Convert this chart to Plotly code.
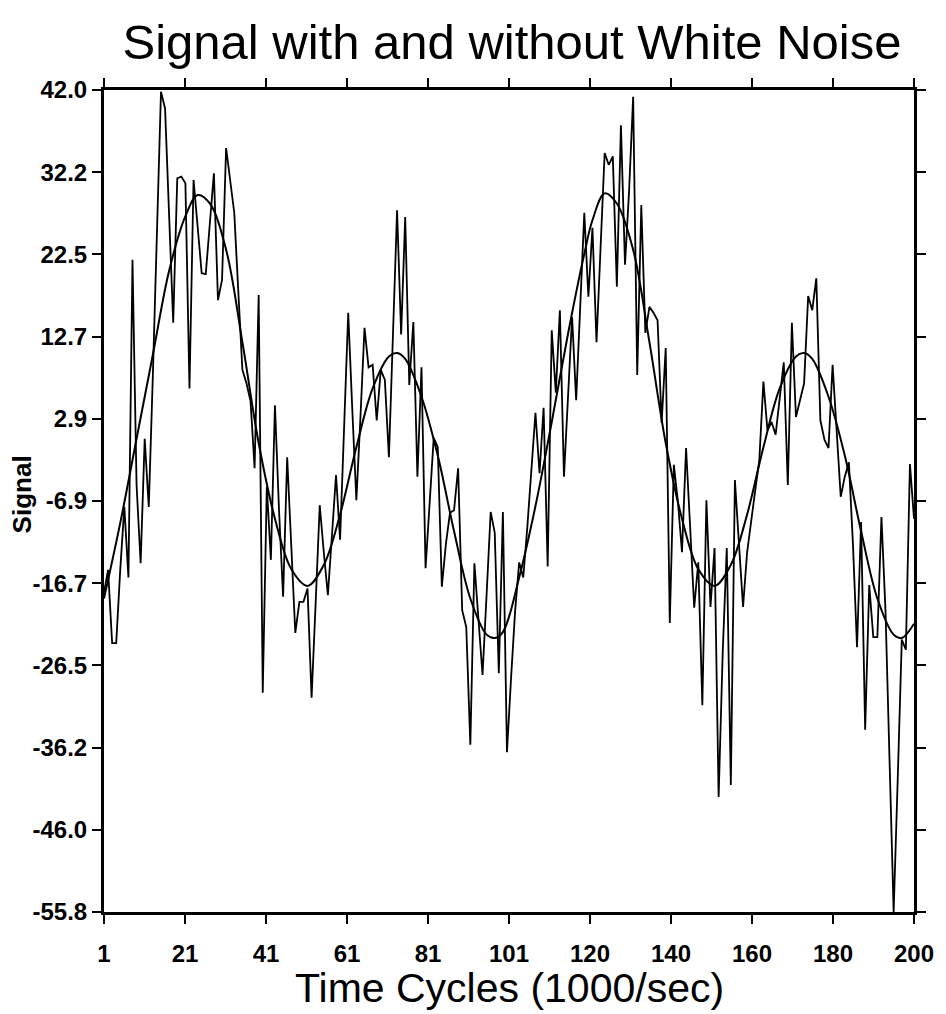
import plotly.graph_objects as go

# ---- data ----
time_idx = list(range(1, 201))

noisy_signal = [
    -17.8, -15.1, -23.8, -23.8, -15.0, -7.6, -16.0, 21.8, -5.0, -14.3,
    0.5, -7.6, 8.0, 25.0, 41.8, 39.8, 27.0, 14.3, 31.5, 31.7,
    30.9, 6.5, 31.3, 25.5, 20.2, 20.1, 26.0, 32.1, 17.0, 19.4,
    35.1, 31.0, 27.4, 18.0, 8.7, 7.1, 5.0, -3.0, 17.6, -29.7,
    -5.2, -13.9, 4.5, -8.0, -18.3, -1.7, -12.0, -22.6, -18.9, -18.9,
    -17.3, -30.3, -19.0, -7.4, -13.0, -18.1, -11.0, -3.8, -11.5, 2.0,
    15.5, 4.0, -6.8, 3.0, 13.7, 9.0, 9.3, 2.7, 8.7, 7.5,
    -1.7, 13.0, 27.7, 12.9, 26.9, 6.9, 14.4, -4.0, 9.0, -14.9,
    -7.0, 0.6, -0.5, -17.1, -12.0, -8.3, -8.0, -3.0, -19.9, -21.9,
    -35.9, -14.3, -21.0, -27.6, -18.0, -8.2, -10.7, -27.4, -8.2, -36.8,
    -28.0, -20.0, -14.2, -16.0, -10.0, -3.0, 3.6, -3.6, 4.2, -14.7,
    13.4, 6.0, 15.8, -4.0, 5.0, 15.0, 5.1, 16.0, 27.4, 17.4,
    25.6, 12.0, 24.0, 34.5, 33.1, 34.1, 18.6, 37.8, 21.2, 30.0,
    41.2, 8.1, 28.3, 13.1, 16.2, 15.5, 14.6, 2.4, 11.3, -21.4,
    -2.6, -7.0, -13.0, -0.6, -10.0, -19.6, -14.2, -31.2, -6.8, -19.5,
    -12.5, -42.1, -25.0, -12.5, -40.7, -4.4, -12.0, -19.5, -13.0, -9.0,
    -5.6, -2.0, 7.3, 1.5, 2.5, 1.0, 5.0, 9.6, -5.0, 14.3,
    3.1, 5.0, 7.1, 17.5, 15.8, 19.6, 2.7, 0.4, -0.6, 9.3,
    1.0, -6.4, -4.0, -2.3, -12.0, -24.3, -9.4, -34.1, -16.9, -23.1,
    -23.1, -8.8, -20.0, -38.0, -55.8, -40.0, -23.4, -24.6, -2.5, -9.0,
]

smooth_x = [1, 5, 9, 13, 17, 21, 24, 27, 31, 35, 39, 43, 47, 51, 55, 59, 63, 67,
            71, 73, 75, 79, 83, 87, 91, 95, 97, 99, 103, 107, 111, 115, 119, 121,
            124, 127, 131, 135, 139, 143, 147, 151, 155, 159, 163, 167, 171, 173,
            175, 179, 183, 187, 191, 195, 197, 200]
smooth_signal = [-18.5, -9.5, 0.5, 10.5, 20.5, 27.0, 29.5, 28.5, 23.0, 12.0, 0.0,
                 -9.0, -15.0, -17.0, -14.5, -8.5, -0.5, 6.5, 10.3, 10.7, 10.0, 5.5,
                 -1.5, -10.5, -18.5, -22.8, -23.2, -22.5, -16.0, -7.5, 2.5, 13.0,
                 22.5, 26.5, 29.7, 28.5, 23.0, 12.0, 0.0, -9.0, -15.0, -17.0,
                 -14.5, -8.5, -0.5, 6.5, 10.3, 10.7, 10.0, 5.5, -1.5, -10.5,
                 -18.5, -22.8, -23.2, -21.5]

x_tickvals = [1, 20.9, 40.8, 60.7, 80.6, 100.5, 120.4, 140.3, 160.2, 180.1, 200]
x_ticktext = ["1", "21", "41", "61", "81", "101", "120", "140", "160", "180", "200"]
y_tickvals = [42.0, 32.22, 22.44, 12.66, 2.88, -6.9, -16.68, -26.46, -36.24, -46.02, -55.8]
y_ticktext = ["42.0", "32.2", "22.5", "12.7", "2.9", "-6.9", "-16.7", "-26.5", "-36.2", "-46.0", "-55.8"]

FONT = "Arial, 'Liberation Sans', Helvetica, sans-serif"

fig = go.Figure()
fig.add_trace(go.Scatter(x=time_idx, y=noisy_signal, mode="lines",
                         line=dict(color="black", width=1.8), showlegend=False))
fig.add_trace(go.Scatter(x=smooth_x, y=smooth_signal, mode="lines",
                         line=dict(color="black", width=2, shape="spline", smoothing=1.0),
                         showlegend=False))

axis_common = dict(
    showline=True, linecolor="black", linewidth=3, mirror="ticks",
    ticks="outside", ticklen=9, tickwidth=2, tickcolor="black",
    showgrid=False, zeroline=False,
    tickfont=dict(family=FONT, size=24, color="black", weight="bold"),
)

fig.update_xaxes(range=[1, 200], tickvals=x_tickvals, ticktext=x_ticktext,
                 ticklabelstandoff=9, **axis_common)
fig.update_yaxes(range=[-55.8, 42.0], tickvals=y_tickvals, ticktext=y_ticktext,
                 ticklabelstandoff=0, **axis_common)

fig.update_layout(
    width=946, height=1014,
    margin=dict(l=104, r=28, t=90, b=102),
    paper_bgcolor="white", plot_bgcolor="white",
    title=dict(text="Signal with and without White Noise", x=512 / 946, xref="container",
               xanchor="center", y=1 - 42 / 1014, yref="container", yanchor="middle",
               font=dict(family=FONT, size=49, color="black")),
)

fig.add_annotation(text="Time Cycles (1000/sec)", xref="paper", yref="paper",
                   x=0.5, y=-(988 - 912) / 822, yanchor="middle", xanchor="center",
                   showarrow=False, font=dict(family=FONT, size=41, color="black"))
fig.add_annotation(text="<b>Signal</b>", xref="paper", yref="paper",
                   x=-(104 - 22) / 814, y=(912 - 494) / 822, textangle=-90,
                   xanchor="center", yanchor="middle", showarrow=False,
                   font=dict(family=FONT, size=26, color="black"))

fig.write_html("out.html")
